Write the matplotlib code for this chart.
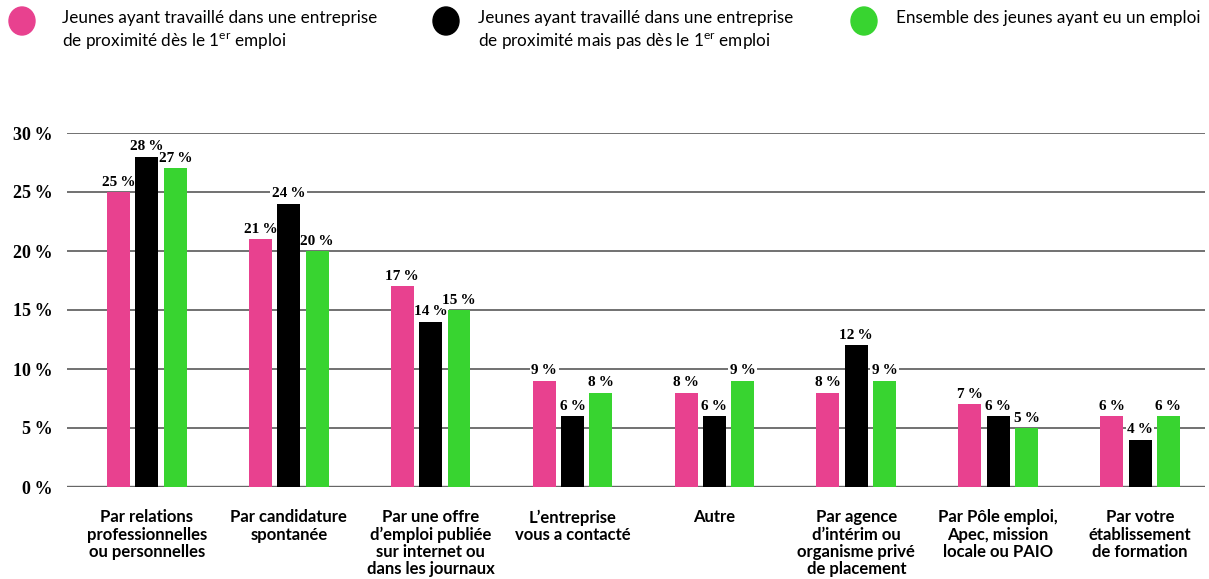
import matplotlib.pyplot as plt
import numpy as np
from matplotlib.patches import Ellipse

plt.rcParams['mathtext.fontset'] = 'custom'
plt.rcParams['mathtext.rm'] = 'Lato'

categories = ["Par relations\nprofessionnelles\nou personnelles",
              "Par candidature\nspontanée",
              "Par une offre\nd\u2019emploi publiée\nsur internet ou\ndans les journaux",
              "L\u2019entreprise\nvous a contacté",
              "Autre",
              "Par agence\nd\u2019intérim ou\norganisme privé\nde placement",
              "Par Pôle emploi,\nApec, mission\nlocale ou PAIO",
              "Par votre\nétablissement\nde formation"]

proximite_1er = [25, 21, 17, 9, 8, 8, 7, 6]
proximite_pas_1er = [28, 24, 14, 6, 6, 12, 6, 4]
ensemble = [27, 20, 15, 8, 9, 9, 5, 6]

series_labels = ["Jeunes ayant travaillé dans une entreprise\nde proximité dès le 1$^{\\rm er}$ emploi",
                 "Jeunes ayant travaillé dans une entreprise\nde proximité mais pas dès le 1$^{\\rm er}$ emploi",
                 "Ensemble des jeunes ayant eu un emploi"]
colors = ['#E8418F', '#000000', '#38D430']

yticks = [0, 5, 10, 15, 20, 25, 30]

fig = plt.figure(figsize=(12.09, 5.79), dpi=100, facecolor='w')
ax = fig.add_axes([67/1209, 1-487/579, 1-67/1209-4/1209, (487-133)/579])

x = np.arange(len(categories))
width = 0.162
step = 0.2
for k, (vals, col) in enumerate(zip([proximite_1er, proximite_pas_1er, ensemble], colors)):
    pos = x + (k-1)*step
    ax.bar(pos, vals, width=width, color=col, zorder=4)
    for p, v in zip(pos, vals):
        ax.annotate('{}\u2009%'.format(v), (p, v), xytext=(0, 2.5), textcoords='offset points',
                    ha='center', va='bottom', fontsize=11, fontweight='bold',
                    family='Liberation Serif', zorder=3,
                    bbox=dict(boxstyle='square,pad=0.1', fc='white', ec='none'))

#grid lines instead of spines
for t in yticks:
    ax.axhline(t, color='#666666', lw=1.3 if t else 1.7, zorder=1)
ax.set_xlim(-0.563, 7.458)
ax.set_ylim(0, 30)
ax.set_yticks(yticks)
ax.set_yticklabels(['{}\u2009%'.format(t) for t in yticks], family='Liberation Serif',
                   fontweight='bold', fontsize=13)
ax.tick_params(axis='y', length=0, pad=10)
ax.set_xticks(x)
ax.set_xticklabels(categories, family='Lato', fontweight='bold', fontsize=12,
                   linespacing=1.1, va='top')
ax.tick_params(axis='x', length=0, pad=16)
for s in ax.spines.values():
    s.set_visible(False)

#legend drawn by hand in figure pixels
leg_dot = [22, 446, 864]
leg_txt = [62, 478, 896]
for dx, tx, lab, col in zip(leg_dot, leg_txt, series_labels, colors):
    fig.patches.append(Ellipse((dx/1209, 1-21/579), 26/1209, 28/579, color=col,
                               transform=fig.transFigure, figure=fig))
    fig.text(tx/1209, 1-10/579, lab, fontsize=12.3, family='Lato',
             va='top', ha='left', linespacing=1.4)

fig.savefig('out.png', dpi=100)
